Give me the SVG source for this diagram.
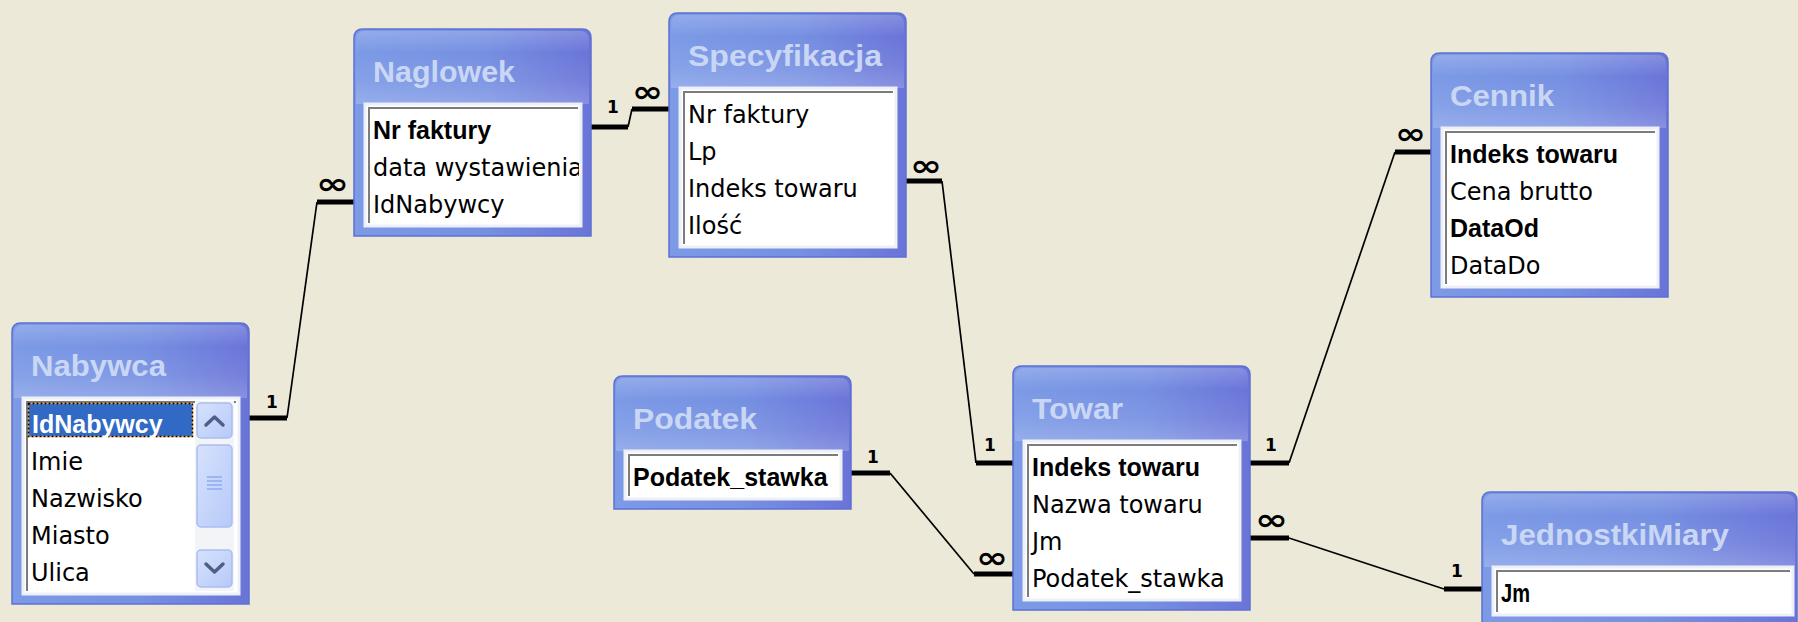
<svg xmlns="http://www.w3.org/2000/svg" width="1798" height="622" viewBox="0 0 1798 622">
<defs>
<linearGradient id="fg" x1="0" y1="0" x2="1" y2="0">
<stop offset="0" stop-color="#7c9ae6"/>
<stop offset="0.55" stop-color="#7690e2"/>
<stop offset="1" stop-color="#6a74d8"/>
</linearGradient>
<linearGradient id="tg" x1="0" y1="0" x2="0" y2="1">
<stop offset="0" stop-color="#ffffff" stop-opacity="0.18"/>
<stop offset="0.3" stop-color="#ffffff" stop-opacity="0"/>
<stop offset="0.7" stop-color="#ffffff" stop-opacity="0.08"/>
<stop offset="1" stop-color="#ffffff" stop-opacity="0.2"/>
</linearGradient>
<linearGradient id="btn" x1="0" y1="0" x2="1" y2="1">
<stop offset="0" stop-color="#d6e2fd"/>
<stop offset="1" stop-color="#b6c9f8"/>
</linearGradient>
<clipPath id="cN"><rect x="367" y="106" width="212" height="118"/></clipPath>
<style>
.frame{fill:url(#fg);stroke:#5d70d2;stroke-width:1.5}
.shine{fill:url(#tg)}
.title{font-family:"Liberation Sans",Arial,sans-serif;font-weight:bold;font-size:30px;fill:#c9d7f5}
.box{fill:#ffffff;stroke:#eef0f8;stroke-width:3}
.inset{fill:none;stroke:#7c7c7c;stroke-width:2}
.f{font-family:"DejaVu Sans",Verdana,sans-serif;font-size:24px;fill:#000}
.b{font-family:"Liberation Sans",Arial,sans-serif;font-weight:bold;font-size:25px;fill:#000}
.thick{fill:none;stroke:#000;stroke-width:5}
.thin{fill:none;stroke:#000;stroke-width:1.7}
.one{font-family:"DejaVu Sans",sans-serif;font-weight:bold;font-size:17px;fill:#000}
.inf{font-family:"DejaVu Sans",sans-serif;font-weight:bold;font-size:30px;fill:#000}
.sbtn{fill:url(#btn);stroke:#a9bdf2;stroke-width:1.5}
.arr{fill:none;stroke:#4d5f86;stroke-width:3.5;stroke-linecap:round;stroke-linejoin:round}
.grip{stroke:#8eaaf0;stroke-width:1.5}
</style>
</defs>
<rect x="0" y="0" width="1798" height="622" fill="#ece9d8"/>

<g id="connectors">
<path class="thick" d="M249,418 H287"/><path class="thin" d="M287,418 L317,202"/><path class="thick" d="M317,202 H354"/>
<text class="one" x="266" y="408">1</text><text class="inf" x="316" y="194" textLength="33" lengthAdjust="spacingAndGlyphs">∞</text>

<path class="thick" d="M591,127 H628"/><path class="thin" d="M628,127 L632,109"/><path class="thick" d="M632,109 H669"/>
<text class="one" x="607" y="113">1</text><text class="inf" x="632" y="102" textLength="31" lengthAdjust="spacingAndGlyphs">∞</text>

<path class="thick" d="M906,181 H942"/><path class="thin" d="M942,181 L976,463"/><path class="thick" d="M976,463 H1013"/>
<text class="inf" x="910" y="176" textLength="32" lengthAdjust="spacingAndGlyphs">∞</text><text class="one" x="984" y="451">1</text>

<path class="thick" d="M1250,463 H1289"/><path class="thin" d="M1289,463 L1395,152"/><path class="thick" d="M1395,152 H1431"/>
<text class="one" x="1265" y="451">1</text><text class="inf" x="1395" y="144" textLength="31" lengthAdjust="spacingAndGlyphs">∞</text>

<path class="thick" d="M851,473 H890"/><path class="thin" d="M890,473 L974,574"/><path class="thick" d="M974,574 H1013"/>
<text class="one" x="867" y="463">1</text><text class="inf" x="976" y="568" textLength="32" lengthAdjust="spacingAndGlyphs">∞</text>

<path class="thick" d="M1250,538 H1289"/><path class="thin" d="M1289,538 L1444,589"/><path class="thick" d="M1444,589 H1482"/>
<text class="inf" x="1255" y="530" textLength="33" lengthAdjust="spacingAndGlyphs">∞</text><text class="one" x="1451" y="577">1</text>
</g>

<g id="naglowek">
<path class="frame" d="M354,236 V38 Q354,29 363,29 H582 Q591,29 591,38 V236 Z"/>
<path class="shine" d="M356,104 V40 Q356,31 365,31 H580 Q589,31 589,40 V104 Z"/>
<text class="title" x="373" y="82" textLength="142" lengthAdjust="spacingAndGlyphs">Naglowek</text>
<rect class="box" x="365" y="104" width="216" height="122"/>
<path class="inset" d="M369,223 V108 H578"/>
<g clip-path="url(#cN)">
<text class="b" x="373" y="139">Nr faktury</text>
<text class="f" x="373" y="176">data wystawienia</text>
<text class="f" x="373" y="213">IdNabywcy</text>
</g>
</g>

<g id="specyfikacja">
<path class="frame" d="M669,257 V22 Q669,13 678,13 H897 Q906,13 906,22 V257 Z"/>
<path class="shine" d="M671,88 V24 Q671,15 680,15 H895 Q904,15 904,24 V88 Z"/>
<text class="title" x="688" y="66" textLength="194" lengthAdjust="spacingAndGlyphs">Specyfikacja</text>
<rect class="box" x="680" y="88" width="216" height="159"/>
<path class="inset" d="M684,244 V92 H893"/>
<text class="f" x="688" y="123">Nr faktury</text>
<text class="f" x="688" y="160">Lp</text>
<text class="f" x="688" y="197">Indeks towaru</text>
<text class="f" x="688" y="234">Ilość</text>
</g>

<g id="cennik">
<path class="frame" d="M1431,297 V62 Q1431,53 1440,53 H1659 Q1668,53 1668,62 V297 Z"/>
<path class="shine" d="M1433,128 V64 Q1433,55 1442,55 H1657 Q1666,55 1666,64 V128 Z"/>
<text class="title" x="1450" y="106" textLength="104" lengthAdjust="spacingAndGlyphs">Cennik</text>
<rect class="box" x="1442" y="128" width="216" height="159"/>
<path class="inset" d="M1446,284 V132 H1655"/>
<text class="b" x="1450" y="163">Indeks towaru</text>
<text class="f" x="1450" y="200">Cena brutto</text>
<text class="b" x="1450" y="237">DataOd</text>
<text class="f" x="1450" y="274">DataDo</text>
</g>

<g id="nabywca">
<path class="frame" d="M12,604 V332 Q12,323 21,323 H240 Q249,323 249,332 V604 Z"/>
<path class="shine" d="M14,398 V334 Q14,325 23,325 H238 Q247,325 247,334 V398 Z"/>
<text class="title" x="31" y="376" textLength="135" lengthAdjust="spacingAndGlyphs">Nabywca</text>
<rect class="box" x="23" y="398" width="216" height="196"/>
<path class="inset" d="M27,591 V402 H236"/>
<rect x="28" y="403" width="165" height="34" fill="#316ac5"/>
<rect x="28.5" y="403.5" width="164" height="33" fill="none" stroke="#000" stroke-width="1.5" stroke-dasharray="2 2"/>
<rect x="28.5" y="403.5" width="164" height="33" fill="none" stroke="#e8a040" stroke-width="1.5" stroke-dasharray="2 2" stroke-dashoffset="2"/>
<text class="b" x="32" y="433" fill="#ffffff" style="fill:#ffffff">IdNabywcy</text>
<text class="f" x="31" y="470">Imie</text>
<text class="f" x="31" y="507">Nazwisko</text>
<text class="f" x="31" y="544">Miasto</text>
<text class="f" x="31" y="581">Ulica</text>
<rect x="195" y="401" width="39" height="190" fill="#f3f4f8"/>
<rect class="sbtn" x="197" y="403" width="35" height="35" rx="4"/>
<path class="arr" d="M206,425 L214.5,417 L223,425"/>
<rect class="sbtn" x="197" y="445" width="35" height="82" rx="4"/>
<line class="grip" x1="207" y1="477" x2="222" y2="477"/>
<line class="grip" x1="207" y1="481" x2="222" y2="481"/>
<line class="grip" x1="207" y1="485" x2="222" y2="485"/>
<line class="grip" x1="207" y1="489" x2="222" y2="489"/>
<rect class="sbtn" x="197" y="550" width="35" height="37" rx="4"/>
<path class="arr" d="M206,564 L214.5,572 L223,564"/>
</g>

<g id="podatek">
<path class="frame" d="M614,509 V385 Q614,376 623,376 H842 Q851,376 851,385 V509 Z"/>
<path class="shine" d="M616,451 V387 Q616,378 625,378 H840 Q849,378 849,387 V451 Z"/>
<text class="title" x="633" y="429" textLength="124" lengthAdjust="spacingAndGlyphs">Podatek</text>
<rect class="box" x="625" y="451" width="216" height="48"/>
<path class="inset" d="M629,496 V455 H838"/>
<text class="b" x="633" y="486">Podatek_stawka</text>
</g>

<g id="towar">
<path class="frame" d="M1013,610 V375 Q1013,366 1022,366 H1241 Q1250,366 1250,375 V610 Z"/>
<path class="shine" d="M1015,441 V377 Q1015,368 1024,368 H1239 Q1248,368 1248,377 V441 Z"/>
<text class="title" x="1032" y="419" textLength="91" lengthAdjust="spacingAndGlyphs">Towar</text>
<rect class="box" x="1024" y="441" width="216" height="159"/>
<path class="inset" d="M1028,597 V445 H1237"/>
<text class="b" x="1032" y="476">Indeks towaru</text>
<text class="f" x="1032" y="513">Nazwa towaru</text>
<text class="f" x="1032" y="550">Jm</text>
<text class="f" x="1032" y="587">Podatek_stawka</text>
</g>

<g id="jednostkimiary">
<path class="frame" d="M1482,630 V501 Q1482,492 1491,492 H1788 Q1797,492 1797,501 V630 Z"/>
<path class="shine" d="M1484,567 V503 Q1484,494 1493,494 H1786 Q1795,494 1795,503 V567 Z"/>
<text class="title" x="1501" y="545" textLength="228" lengthAdjust="spacingAndGlyphs">JednostkiMiary</text>
<rect class="box" x="1493" y="567" width="300" height="48"/>
<path class="inset" d="M1497,612 V571 H1790"/>
<text class="b" x="1501" y="602" textLength="29" lengthAdjust="spacingAndGlyphs">Jm</text>
</g>
</svg>
